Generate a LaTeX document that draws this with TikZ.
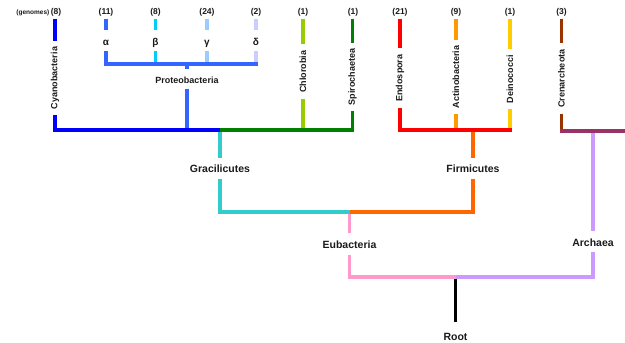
\documentclass[tikz,border=0pt]{standalone}
\usepackage{fontspec}
\setmainfont{Liberation Sans}
\definecolor{ink}{HTML}{1A1A1A}
\definecolor{cyanoC}{HTML}{0000FF}
\definecolor{proteoC}{HTML}{3366FF}
\definecolor{betaC}{HTML}{00CCFF}
\definecolor{gammaC}{HTML}{99CCFF}
\definecolor{deltaC}{HTML}{CCCCFF}
\definecolor{chloroC}{HTML}{99CC00}
\definecolor{spiroC}{HTML}{008000}
\definecolor{gracilC}{HTML}{33CCCC}
\definecolor{firmC}{HTML}{FF6600}
\definecolor{endoC}{HTML}{FF0000}
\definecolor{actinoC}{HTML}{FF9900}
\definecolor{deinoC}{HTML}{FFCC00}
\definecolor{crenC}{HTML}{993300}
\definecolor{crenbarC}{HTML}{993366}
\definecolor{archC}{HTML}{CC99FF}
\definecolor{eubacC}{HTML}{FF99CC}
\begin{document}
\begin{tikzpicture}[x=1pt,y=-1pt,
  br/.style={line width=3.5pt},
  txt/.style={text=ink, font=\bfseries},
  leaf/.style={txt, rotate=90, font=\fontsize{9}{9}\bfseries\selectfont,
    inner xsep=6pt, inner ysep=1pt},
  count/.style={txt, font=\fontsize{8.5}{8.5}\bfseries\selectfont, inner sep=0pt},
  greek/.style={txt, font=\fontsize{10}{10}\bfseries\selectfont, inner sep=0pt,
    text height=15.5pt, text depth=5.5pt},
  clade/.style={txt, font=\fontsize{10.5}{10.5}\bfseries\selectfont,
    inner xsep=2pt, inner ysep=0pt, text height=15pt, text depth=6pt},
]
\useasboundingbox (0,0) rectangle (625,343);

% genome counts
\node[count, anchor=east, font=\fontsize{6.5}{6.5}\bfseries\selectfont] (gen) at (49.5,12.5) {(genomes)};
\node[count] (ncy) at (56,12.5) {(8)};
\node[count] (nal) at (106,12.5) {(11)};
\node[count] (nbe) at (155.5,12.5) {(8)};
\node[count] (nga) at (207,12.5) {(24)};
\node[count] (nde) at (256,12.5) {(2)};
\node[count] (nch) at (303,12.5) {(1)};
\node[count] (nsp) at (353,12.5) {(1)};
\node[count] (nen) at (400,12.5) {(21)};
\node[count] (nac) at (456,12.5) {(9)};
\node[count] (ndi) at (510,12.5) {(1)};
\node[count] (ncr) at (561.5,12.5) {(3)};

% leaf tips
\coordinate (tcy) at (55,18.5);
\coordinate (tal) at (106,18.5);
\coordinate (tbe) at (155.5,18.5);
\coordinate (tga) at (207,18.5);
\coordinate (tde) at (256,18.5);
\coordinate (tch) at (303,18.5);
\coordinate (tsp) at (352.5,18.5);
\coordinate (ten) at (400,18.5);
\coordinate (tac) at (456,18.5);
\coordinate (tdi) at (510,18.5);
\coordinate (tcr) at (561.5,18.5);

% leaf labels
\node[leaf] (cy) at (55,78) {Cyanobacteria};
\node[leaf] (ch) at (303,71.5) {Chlorobia};
\node[leaf] (sp) at (352.5,77) {Spirochaetea};
\node[leaf] (en) at (400,78) {Endospora};
\node[leaf] (ac) at (456,77) {Actinobacteria};
\node[leaf] (di) at (510,79) {Deinococci};
\node[leaf] (cr) at (561.5,78.5) {Crenarcheota};
\node[greek] (al) at (106,40.5) {α};
\node[greek] (be) at (155.5,40.5) {β};
\node[greek] (ga) at (207,40.5) {γ};
\node[greek] (de) at (256,40.5) {δ};

% clade labels
\node[clade, font=\fontsize{9}{9}\bfseries\selectfont, text height=14pt, text depth=5pt] (pr) at (187,78.8) {Proteobacteria};
\node[clade] (gr) at (220,168.2) {Gracilicutes};
\node[clade] (fi) at (473,168.2) {Firmicutes};
\node[clade] (eu) at (349.5,243.8) {Eubacteria};
\node[clade] (ar) at (593,241.5) {Archaea};
\node[clade, text height=18.3pt] (root) at (455.5,334.8) {Root};

% junctions
\coordinate (dBase) at (256,64);
\coordinate (proTop) at (187,64);
\coordinate (grTop) at (220,130);
\coordinate (fiTop) at (473,130);
\coordinate (diBase) at (510,130);
\coordinate (crBase) at (561.5,131);
\coordinate (arTop) at (593,131);
\coordinate (crEnd) at (626,131);
\coordinate (euTop) at (349.5,212);
\coordinate (rootTop) at (455.5,277);

% root side first, so that each bar lies over the stem below it
\draw[br, black] (rootTop) -- (root);
\draw[br, eubacC] (eu) |- (rootTop);
\draw[br, archC] (ar) |- (rootTop);
\draw[br, archC] (arTop) -- (ar);
\draw[br, eubacC] (euTop) -- (eu);
\draw[br, gracilC] (gr) |- (euTop);
\draw[br, firmC] (fi) |- (euTop);
\draw[br, gracilC] (grTop) -- (gr);
\draw[br, firmC] (fiTop) -- (fi);

% Gracilicutes
\draw[br, proteoC] (pr) -- (pr |- grTop);
\draw[br, chloroC] (ch) -- (ch |- grTop);
\draw[br, cyanoC] (cy) |- (grTop);
\draw[br, spiroC] (sp) |- (grTop);

% Firmicutes
\draw[br, actinoC] (ac) -- (ac |- diBase);
\draw[br, deinoC] (di) -- (diBase);
\draw[br, endoC, shorten >=-1.75pt] (en) |- (diBase);

% Crenarcheota
\draw[br, crenC] (cr) -- (crBase);
\draw[br, crenbarC, shorten <=-1.5pt] (crBase) -- (crEnd);

% Proteobacteria
\draw[br, proteoC] (proTop) -- (pr);
\draw[br, betaC] (be) -- (be |- dBase);
\draw[br, gammaC] (ga) -- (ga |- dBase);
\draw[br, deltaC] (de) -- (dBase);
\draw[br, proteoC, shorten >=-1.75pt] (al) |- (dBase);

% leaf stems above the labels
\draw[br, cyanoC] (tcy) -- (cy);
\draw[br, proteoC] (tal) -- (al);
\draw[br, betaC] (tbe) -- (be);
\draw[br, gammaC] (tga) -- (ga);
\draw[br, deltaC] (tde) -- (de);
\draw[br, chloroC] (tch) -- (ch);
\draw[br, spiroC] (tsp) -- (sp);
\draw[br, endoC] (ten) -- (en);
\draw[br, actinoC] (tac) -- (ac);
\draw[br, deinoC] (tdi) -- (di);
\draw[br, crenC] (tcr) -- (cr);
\end{tikzpicture}
\end{document}
